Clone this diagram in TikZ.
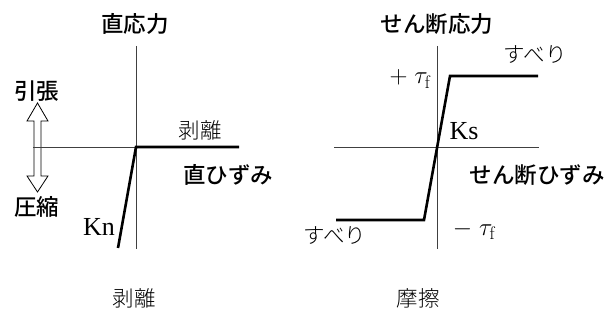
\documentclass[tikz,border=0pt]{standalone}
\usepackage{fontspec}
\newfontfamily\jpl{Noto Sans CJK JP Light}
\newfontfamily\jpm{Noto Sans CJK JP Medium}
\newfontfamily\lat{Liberation Serif}
\begin{document}
\begin{tikzpicture}[x=1pt,y=-1pt,
  axis/.style={draw=black!75,line width=0.8pt},
  curve/.style={draw=black,line width=2.6pt,line join=miter},
  head/.style={font=\jpm\fontsize{22.5}{24}\selectfont,inner sep=0pt},
  thin/.style={font=\jpl\fontsize{21.5}{23}\selectfont,inner sep=0pt},
  lbl/.style={font=\lat\fontsize{26}{28}\selectfont,inner sep=0pt},
  dblarrow/.style={draw=black,line width=0.8pt,fill=white,line join=miter}]
\useasboundingbox (0,0) rectangle (614,320);
% ---- left chart: normal stress
\coordinate (o1) at (136,147);
\coordinate (v1t) at (136,46);
\coordinate (v1b) at (136,249);
\coordinate (h1l) at (33,147);
\coordinate (h1r) at (239,147);
\coordinate (kn1) at (118,248);
% hollow double arrow
\draw[dblarrow] (37.5,103) -- (48,121) -- (41,121) -- (41,176) -- (48,176)
  -- (37.5,192) -- (27,176) -- (34,176) -- (34,121) -- (27,121) -- cycle;
\draw[axis] (v1t) -- (v1b);
\draw[axis] (h1l) -- (o1);
\draw[curve] (kn1) -- (o1) -- (h1r);
\node[head] (t1) at (135,24) {直応力};
\node[head] (tens) at (37,91) {引張};
\node[head] (comp) at (37,207) {圧縮};
\node[thin] (hak1) at (200,130) {剥離};
\node[head] (nstr) at (228,175) {直ひずみ};
\node[lbl] (kn) at (99,227) {Kn};
\node[thin] (hak2) at (134,298) {剥離};
% ---- right chart: shear stress
\coordinate (o2) at (437,147);
\coordinate (v2t) at (437,46);
\coordinate (v2b) at (437,249);
\coordinate (h2l) at (334,147);
\coordinate (h2r) at (539,147);
\coordinate (s1) at (336,220);
\coordinate (s2) at (424,220);
\coordinate (s3) at (450,76);
\coordinate (s4) at (538,76);
\draw[axis] (v2t) -- (v2b);
\draw[axis] (h2l) -- (h2r);
\draw[curve] (s1) -- (s2) -- (s3) -- (s4);
\node[head] (t2) at (437,24) {せん断応力};
\node[thin] (sub1) at (535,55) {すべり};
\node[lbl] (ptau) at (410,79) {$+\;\tau_{\mathrm{f}}$};
\node[lbl] (ks) at (464,131) {Ks};
\node[head] (sstr) at (537,175) {せん断ひずみ};
\node[lbl] (mtau) at (474,230) {$-\;\tau_{\mathrm{f}}$};
\node[thin] (sub2) at (335,236) {すべり};
\node[thin] (mas) at (418,298) {摩擦};
\end{tikzpicture}
\end{document}
